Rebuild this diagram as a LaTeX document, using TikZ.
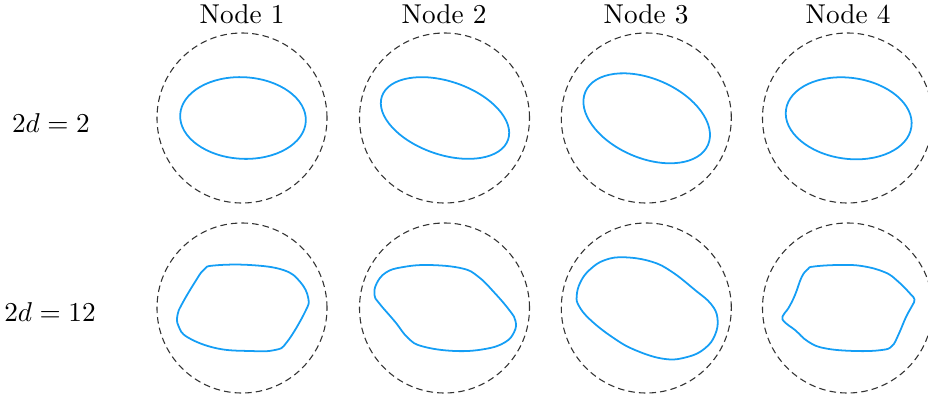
\documentclass[tikz,border=0pt]{standalone}
\begin{document}
\begin{tikzpicture}[x=0.367pt,y=0.367pt,
  dcirc/.style={circle,draw=black!80,line width=0.4pt,dash pattern=on 2.4pt off 1.5pt,minimum size=62.4pt,inner sep=0pt},
  bline/.style={draw=shapeblue,line width=0.65pt},
  lbl/.style={anchor=base,inner sep=0pt}]
\definecolor{shapeblue}{RGB}{20,158,245}
\useasboundingbox (0,0) rectangle (928,-401);
% column titles
\node[lbl] (t1) at (242,-23) {Node 1};
\node[lbl] (t2) at (444,-23) {Node 2};
\node[lbl] (t3) at (646,-23) {Node 3};
\node[lbl] (t4) at (848,-23) {Node 4};
% row labels
\node[lbl] (r1) at (51,-132) {$2d=2$};
\node[lbl] (r2) at (50,-321) {$2d=12$};
% dashed circles
\node[dcirc] (a1) at (242,-118) {};
\node[dcirc] (a2) at (444.5,-118) {};
\node[dcirc] (a3) at (646.3,-118) {};
\node[dcirc] (a4) at (847.5,-118) {};
\node[dcirc] (b1) at (242,-308) {};
\node[dcirc] (b2) at (444.5,-308) {};
\node[dcirc] (b3) at (646.3,-308) {};
\node[dcirc] (b4) at (847.5,-308) {};
% row 1 ellipses
\draw[bline,rotate around={-3:(243,-118)}] (243,-118) ellipse [x radius=62.9, y radius=40.8];
\draw[bline,rotate around={-19:(445,-118)}] (445,-118) ellipse [x radius=66.7, y radius=36.6];
\draw[bline,rotate around={-23.4:(646.7,-118.3)}] (646.7,-118.3) ellipse [x radius=66.8, y radius=39.6];
\draw[bline,rotate around={-7.7:(848.7,-118.3)}] (848.7,-118.3) ellipse [x radius=63.3, y radius=40.5];
% row 2 shapes
\draw[bline] plot[smooth cycle,tension=0.7] coordinates {
 (214,-265.5) (250,-265) (283.3,-270) (300,-281.7) (308.3,-298.3) (305,-312)
 (287,-342) (275,-350) (250,-351) (216.7,-348.3) (188,-337.5) (178.5,-326)
 (177.5,-315) (182,-304) (195,-282) (204,-269.5)};
\draw[bline] plot[smooth cycle,tension=0.7] coordinates {
 (386,-272.5) (376.7,-283.3) (374.5,-295) (379,-303) (395,-321.7) (408.3,-338.3)
 (423,-346.5) (455,-351) (485,-349) (505,-342.3) (514.3,-331.7) (515.5,-321)
 (510,-311) (495,-293.3) (478.3,-276.7) (461.7,-268.3) (428.3,-265) (401.7,-267.3)};
\draw[bline] plot[smooth cycle,tension=0.7] coordinates {
 (605,-260) (590,-269.5) (580.5,-282) (576.7,-296) (579,-306) (590,-319.5)
 (611.7,-336.7) (635,-350) (665,-359) (688.3,-356.7) (705,-348.3) (715,-335)
 (717.5,-318.3) (711,-304) (695,-290) (671.7,-271.7) (651.7,-261.7) (625,-257.3)};
\draw[bline] plot[smooth cycle,tension=0.7] coordinates {
 (814,-266.5) (838.3,-265) (861.7,-266) (885,-272.3) (898.3,-281.7) (910,-293.5)
 (914.5,-299.5) (912,-306) (906,-317) (898.3,-335) (892,-346) (881.7,-350)
 (855,-351) (825,-348.3) (808.3,-341.7) (795,-330) (785,-322.5) (782.5,-316.5)
 (788.5,-308) (795,-295) (801.7,-277) (808,-269)};
\end{tikzpicture}
\end{document}
